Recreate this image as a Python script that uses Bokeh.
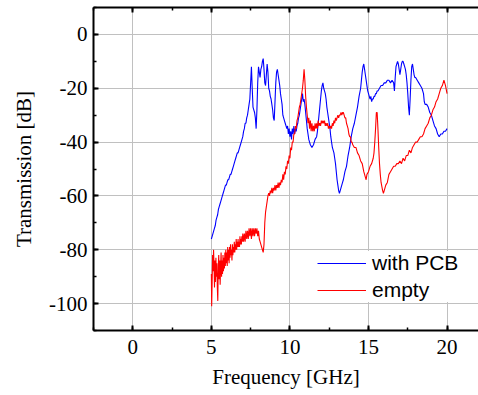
from bokeh.plotting import figure
from bokeh.models import (Range1d, SingleIntervalTicker, LinearAxis, Legend, LegendItem, Grid)
from bokeh.embed import file_html
from bokeh.resources import INLINE

# ---- data ----
freq_pcb = [5.00, 5.05, 5.10, 5.15, 5.20, 5.25, 5.30, 5.35, 5.40, 5.45, 5.50, 5.55, 5.60, 5.65, 5.70, 5.75, 5.80, 5.85, 5.90, 5.95,
            6.00, 6.05, 6.10, 6.15, 6.20, 6.25, 6.30, 6.35, 6.40, 6.45, 6.50, 6.55, 6.60, 6.65, 6.70, 6.75, 6.80, 6.85, 6.90, 6.95,
            7.00, 7.05, 7.10, 7.15, 7.20, 7.25, 7.30, 7.35, 7.40, 7.45, 7.50, 7.55, 7.60, 7.65, 7.70, 7.75, 7.80, 7.85, 7.90, 7.95,
            8.00, 8.05, 8.10, 8.15, 8.20, 8.25, 8.30, 8.35, 8.40, 8.45, 8.50, 8.55, 8.60, 8.65, 8.70, 8.75, 8.80, 8.85, 8.90, 8.95,
            9.00, 9.05, 9.10, 9.15, 9.20, 9.25, 9.30, 9.35, 9.40, 9.45, 9.50, 9.55, 9.60, 9.65, 9.70, 9.75, 9.80, 9.85, 9.90, 9.95,
            10.00, 10.05, 10.10, 10.15, 10.20, 10.25, 10.30, 10.35, 10.40, 10.45, 10.50, 10.55, 10.60, 10.65, 10.70, 10.75, 10.80, 10.85, 10.90, 10.95,
            11.00, 11.05, 11.10, 11.15, 11.20, 11.25, 11.30, 11.40, 11.50, 11.60, 11.70, 11.75, 11.80, 11.85, 11.90, 11.95,
            12.00, 12.05, 12.10, 12.15, 12.20, 12.25, 12.30, 12.35, 12.40, 12.45, 12.50, 12.55, 12.60, 12.65, 12.70, 12.75, 12.80, 12.85, 12.90, 12.95,
            13.00, 13.05, 13.10, 13.15, 13.20, 13.25, 13.30, 13.35, 13.40, 13.50, 13.60, 13.70, 13.80, 13.85, 13.90,
            14.00, 14.10, 14.20, 14.30, 14.40, 14.50, 14.55, 14.60, 14.65, 14.70, 14.75, 14.80, 14.85, 14.90, 14.95,
            15.00, 15.05, 15.10, 15.15, 15.20, 15.25, 15.30, 15.35, 15.40, 15.45, 15.50, 15.55, 15.60, 15.70, 15.80, 15.90,
            16.00, 16.10, 16.20, 16.30, 16.40, 16.50, 16.60, 16.65, 16.70, 16.75, 16.80, 16.85, 16.90, 16.95,
            17.00, 17.05, 17.10, 17.15, 17.20, 17.25, 17.30, 17.35, 17.40, 17.45, 17.50, 17.55, 17.60, 17.65, 17.70, 17.75, 17.80, 17.85, 17.90, 17.95,
            18.00, 18.10, 18.20, 18.30, 18.40, 18.50, 18.55, 18.60, 18.70, 18.80, 18.90,
            19.00, 19.10, 19.20, 19.30, 19.40, 19.50, 19.60, 19.70, 19.80, 19.90, 20.00]
trans_pcb = [-76, -75, -74, -73, -72, -71, -69, -68, -67, -65, -64, -63, -62, -61, -60, -59, -58, -57, -56, -56,
             -55, -54, -54, -53, -52, -52, -51, -50, -49, -48, -47, -46, -45, -44, -44, -43, -42, -41, -40, -39,
             -38, -36, -35, -33, -33, -31, -30, -28, -26, -24, -18, -12, -20, -27, -28, -29, -31, -35, -28, -18,
             -12, -14, -16, -13, -12, -10, -9, -13, -18, -19, -15, -11, -14, -20, -21, -23, -24, -26, -28, -31,
             -32, -25, -18, -14, -13, -15, -17, -19, -22, -24, -26, -30, -31, -32, -33, -34, -35, -34, -37, -35,
             -38, -36, -39, -35, -37, -34, -37, -35, -36, -34, -33, -31, -30, -28, -26, -24, -22, -25, -24, -26,
             -29, -32, -35, -37, -39, -40, -41, -42, -41, -39, -38, -36, -33, -30, -27, -24,
             -21, -19, -18, -20, -21, -22, -24, -27, -29, -31, -33, -35, -38, -40, -42, -43, -44, -46, -48, -51,
             -54, -56, -58, -59, -58, -57, -56, -55, -54, -51, -49, -45, -42, -40, -38,
             -35, -33, -30, -27, -23, -20, -17, -14, -12, -11, -13, -15, -17, -19, -21,
             -22, -23, -24, -23, -25, -24, -24, -23, -23, -22, -22, -21, -21, -20, -19, -19,
             -18, -18, -17, -17, -18, -17, -18, -21, -16, -12, -11, -10, -11, -13,
             -15, -13, -11, -10, -10, -11, -12, -13, -15, -18, -22, -27, -30, -24, -17, -12, -11, -13, -15, -16,
             -16, -17, -18, -19, -20, -22, -25, -26, -26, -27, -29,
             -30, -32, -34, -35, -37, -38, -37, -37, -36, -36, -35]

freq_empty = [5.00, 5.02, 5.05, 5.08, 5.11, 5.14, 5.17, 5.20, 5.23, 5.26, 5.29, 5.32, 5.35, 5.38, 5.41, 5.44, 5.47, 5.50, 5.53, 5.56,
              5.59, 5.62, 5.65, 5.68, 5.71, 5.74, 5.77, 5.80, 5.83, 5.86, 5.89, 5.92, 5.95, 5.98, 6.01, 6.04, 6.07, 6.10, 6.13, 6.16,
              6.19, 6.22, 6.25, 6.28, 6.31, 6.34, 6.37, 6.40, 6.43, 6.46, 6.49, 6.52, 6.55, 6.58, 6.61, 6.64, 6.67, 6.70, 6.73, 6.76,
              6.79, 6.82, 6.85, 6.88, 6.91, 6.94, 6.97, 7.00, 7.05, 7.10, 7.15, 7.20, 7.25, 7.30, 7.35, 7.40, 7.45, 7.50, 7.55, 7.60,
              7.65, 7.70, 7.75, 7.80, 7.85, 7.90, 7.95, 8.00, 8.05, 8.10, 8.15, 8.20, 8.25, 8.30, 8.35, 8.40, 8.45, 8.50, 8.55, 8.60,
              8.65, 8.70, 8.75, 8.80, 8.85, 8.90, 8.95, 9.00, 9.05, 9.10, 9.15, 9.20, 9.25, 9.30, 9.35, 9.40, 9.45, 9.50, 9.55, 9.60,
              9.65, 9.70, 9.75, 9.80, 9.85, 9.90, 9.95, 10.00, 10.05, 10.10, 10.15, 10.20, 10.25, 10.30, 10.35, 10.40, 10.45, 10.50, 10.55, 10.60,
              10.65, 10.70, 10.75, 10.80, 10.85, 10.90, 10.95, 11.00, 11.05, 11.10, 11.15, 11.20, 11.25, 11.30, 11.35, 11.40, 11.45, 11.50, 11.55, 11.60,
              11.65, 11.70, 11.75, 11.80, 11.85, 11.90, 11.95, 12.00, 12.05, 12.10, 12.15, 12.20, 12.25, 12.30, 12.35, 12.40, 12.45, 12.50, 12.55, 12.60,
              12.65, 12.70, 12.75, 12.80, 12.85, 12.90, 12.95, 13.00, 13.05, 13.10, 13.15, 13.20, 13.25, 13.30, 13.35, 13.40, 13.45, 13.50, 13.55, 13.60,
              13.65, 13.70, 13.75, 13.80, 13.85, 13.90, 13.95, 14.00, 14.10, 14.20, 14.30, 14.40, 14.50, 14.60, 14.70, 14.80, 14.85, 14.90, 15.00, 15.10,
              15.20, 15.30, 15.35, 15.40, 15.45, 15.50, 15.55, 15.60, 15.65, 15.70, 15.75, 15.80, 15.90, 15.95, 16.00, 16.10, 16.20, 16.30, 16.40, 16.50,
              16.60, 16.70, 16.80, 16.90, 17.00, 17.10, 17.20, 17.30, 17.40, 17.50, 17.60, 17.70, 17.80, 17.90, 18.00, 18.10, 18.20, 18.30, 18.40, 18.50,
              18.60, 18.70, 18.80, 18.90, 19.00, 19.10, 19.20, 19.30, 19.40, 19.50, 19.60, 19.70, 19.80, 19.90, 20.00]
trans_empty = [-89, -101, -92, -82, -88, -80, -86, -94, -84, -92, -83, -90, -85, -94, -99, -86, -82, -91, -84, -93,
               -86, -81, -90, -84, -89, -82, -88, -83, -87, -81, -86, -80, -85, -81, -86, -79, -84, -80, -85, -79,
               -83, -78, -82, -80, -84, -78, -82, -79, -81, -77, -81, -78, -80, -76, -80, -77, -79, -76, -79, -77,
               -79, -75, -78, -76, -78, -75, -77, -74, -77, -74, -77, -73, -76, -73, -76, -72, -75, -72, -76, -72,
               -75, -72, -75, -72, -74, -72, -75, -73, -76, -77, -78, -79, -80, -81, -78, -70, -66, -64, -62, -60,
               -59, -60, -58, -59, -57, -59, -57, -58, -56, -58, -56, -57, -55, -57, -55, -56, -54, -55, -52, -54,
               -51, -52, -49, -50, -47, -48, -45, -46, -42, -43, -40, -40, -37, -37, -34, -35, -32, -31, -29, -27,
               -26, -24, -22, -20, -17, -13, -17, -23, -27, -30, -33, -31, -35, -32, -36, -33, -36, -34, -36, -33,
               -35, -33, -35, -32, -34, -33, -34, -32, -33, -32, -33, -32, -34, -33, -34, -33, -35, -34, -35, -34,
               -35, -33, -34, -32, -33, -31, -32, -31, -30, -31, -30, -30, -29, -30, -29, -29, -30, -31, -31, -33,
               -34, -35, -37, -38, -38, -40, -40, -41, -42, -42, -44, -45, -47, -48, -51, -53, -54, -52, -51, -49,
               -48, -46, -44, -40, -35, -29, -29, -35, -42, -48, -52, -55, -58, -59, -58, -56, -55, -52, -51, -50,
               -49, -49, -48, -48, -47, -48, -46, -47, -45, -45, -43, -44, -42, -41, -40, -40, -39, -38, -38, -37,
               -35, -34, -33, -31, -30, -28, -27, -25, -24, -22, -20, -19, -17, -19, -22]

x_label = "Frequency [GHz]"
y_label = "Transmission [dB]"
series_names = ["with PCB", "empty"]

SERIF = "Liberation Serif"
SANS = "Liberation Sans"

p = figure(width=478, height=395, output_backend="svg", toolbar_location=None,
           x_range=Range1d(-2.5, 22.0), y_range=Range1d(-110, 10),
           x_axis_location=None, y_axis_location=None,
           min_border_left=93, min_border_right=0, min_border_top=7, min_border_bottom=65)
p.outline_line_color = None
p.background_fill_color = "white"
p.border_fill_color = "white"

xt = SingleIntervalTicker(interval=5, num_minor_ticks=2)
yt = SingleIntervalTicker(interval=20, num_minor_ticks=2)

def style(ax):
    ax.axis_line_width = 2
    ax.axis_line_color = "black"
    ax.major_tick_in = 5
    ax.major_tick_out = 0
    ax.minor_tick_in = 3
    ax.minor_tick_out = 0
    ax.major_tick_line_width = 2
    ax.minor_tick_line_width = 1.5
    ax.major_label_text_font = SERIF
    ax.major_label_text_font_size = "21px"
    ax.major_label_text_color = "black"
    ax.axis_label_text_font = SERIF
    ax.axis_label_text_font_size = "21px"
    ax.axis_label_text_font_style = "normal"
    ax.axis_label_text_color = "black"

xa = LinearAxis(ticker=xt, axis_label=x_label)
style(xa)
xa.major_label_standoff = 9
xa.axis_label_standoff = 8
p.add_layout(xa, "below")

# top frame line with inward ticks, no labels
xa_top = LinearAxis(ticker=xt)
style(xa_top)
xa_top.major_label_text_color = None
xa_top.major_label_text_alpha = 0
xa_top.major_label_text_font_size = "1px"
xa_top.major_label_standoff = 0
p.add_layout(xa_top, "above")

ya = LinearAxis(ticker=yt, axis_label=y_label)
style(ya)
ya.major_label_standoff = 6
ya.axis_label_standoff = 10
ya.major_label_overrides = {v: str(v) for v in [0, -20, -40, -60, -80, -100]}
p.add_layout(ya, "left")

p.xgrid.visible = False
p.ygrid.visible = False
p.add_layout(Grid(dimension=0, ticker=xt, grid_line_color="#c0c0c0", grid_line_width=1))
p.add_layout(Grid(dimension=1, ticker=yt, grid_line_color="#c0c0c0", grid_line_width=1))

r1 = p.line(freq_pcb, trans_pcb, line_color="#0000ff", line_width=1.1)
r2 = p.line(freq_empty, trans_empty, line_color="#ff0000", line_width=1.1)

legend = Legend(items=[LegendItem(label=series_names[0], renderers=[r1]),
                       LegendItem(label=series_names[1], renderers=[r2])],
                location=(224, 28), orientation="vertical",
                glyph_width=49, glyph_height=20, label_height=20, spacing=3,
                label_standoff=6, padding=0, margin=0,
                border_line_color=None, background_fill_color="white", background_fill_alpha=1.0,
                label_text_font=SANS, label_text_font_size="21px", label_text_color="black")
p.add_layout(legend, "center")

open("out.html", "w").write(file_html(p, INLINE))
